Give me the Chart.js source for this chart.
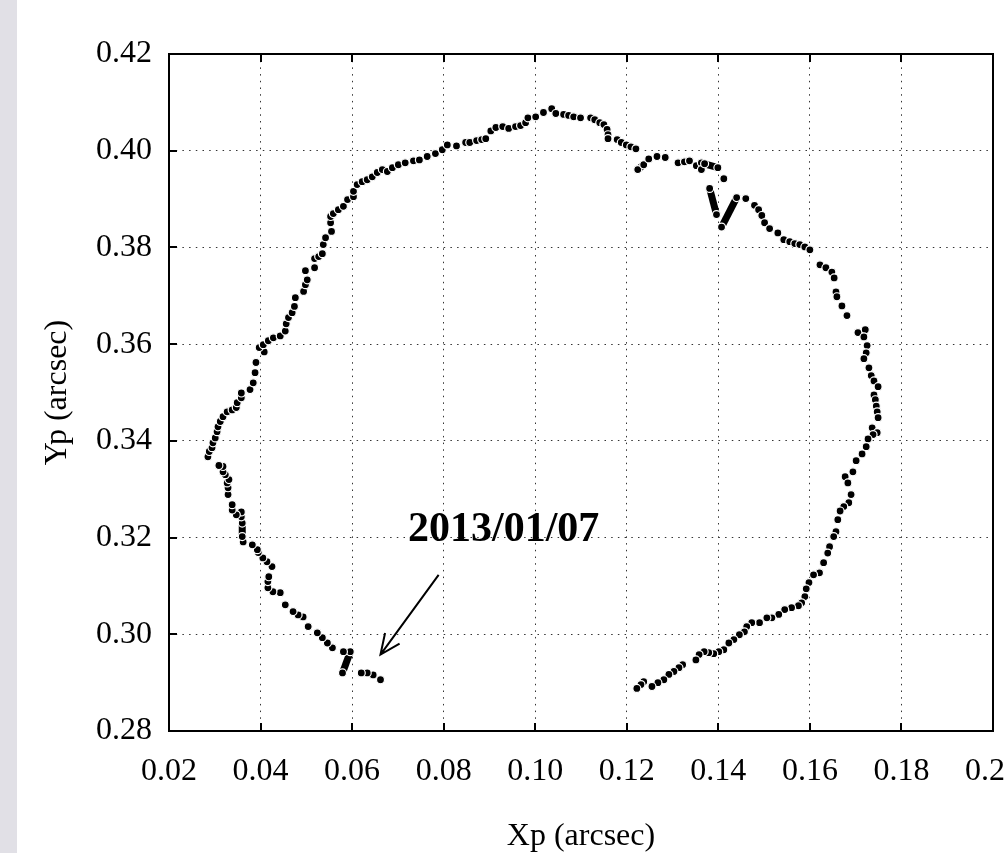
<!DOCTYPE html>
<html>
<head>
<meta charset="utf-8">
<script src="https://cdn.jsdelivr.net/npm/chart.js@4.4.1/dist/chart.umd.min.js"></script>
<style>
  html, body { margin: 0; padding: 0; background: #fff; overflow: hidden; }
  #wrap { width: 1005px; height: 853px; }
</style>
</head>
<body>
<div id="wrap"><canvas id="chart" width="1005" height="853"></canvas></div>
<script>
// polar motion track (arcsec) in order along the curve
const xp = [
  0.0662, 0.0646, 0.0633, 0.0620, 0.0579, 0.0596, 0.0581, 0.0557, 0.0546,
  0.0535, 0.0524, 0.0504, 0.0493, 0.0482, 0.0471, 0.0454, 0.0443, 0.0427, 0.0416,
  0.0416, 0.0418, 0.0425, 0.0414, 0.0405, 0.0395, 0.0393, 0.0382, 0.0362, 0.0360,
  0.0360, 0.0358, 0.0358, 0.0347, 0.0338, 0.0338, 0.0329, 0.0329, 0.0327,
  0.0331, 0.0323, 0.0318, 0.0318, 0.0309, 0.0285, 0.0288, 0.0294, 0.0296, 0.0301,
  0.0305, 0.0307, 0.0312, 0.0318, 0.0327, 0.0338, 0.0347, 0.0349, 0.0358, 0.0358,
  0.0377, 0.0384, 0.0388, 0.0390, 0.0408, 0.0397, 0.0406, 0.0417, 0.0428, 0.0443,
  0.0454, 0.0456, 0.0461, 0.0469, 0.0474, 0.0476, 0.0494, 0.0498, 0.0502, 0.0498,
  0.0518, 0.0518, 0.0527, 0.0535, 0.0537, 0.0542, 0.0555, 0.0553, 0.0553, 0.0559,
  0.0570, 0.0581, 0.0590, 0.0603, 0.0603, 0.0611, 0.0622, 0.0633, 0.0644, 0.0655,
  0.0666, 0.0677, 0.0688, 0.0701, 0.0716, 0.0734, 0.0747, 0.0764, 0.0782, 0.0797,
  0.0808, 0.0828, 0.0848, 0.0857, 0.0872, 0.0883, 0.0892, 0.0903, 0.0914, 0.0929,
  0.0942, 0.0957, 0.0968, 0.0979, 0.0984, 0.1001, 0.1018, 0.1036, 0.1045, 0.1062,
  0.1073, 0.1084, 0.1099, 0.1121, 0.1130, 0.1141, 0.1150, 0.1157, 0.1159, 0.1159,
  0.1179, 0.1188, 0.1199, 0.1209, 0.1220, 0.1224, 0.1237, 0.1248, 0.1266,
  0.1284, 0.1312, 0.1326, 0.1337, 0.1352, 0.1363, 0.1363, 0.1370, 0.1399,
  0.1412, 0.1381, 0.1396, 0.1407, 0.1440, 0.1460,
  0.1479, 0.1488, 0.1495, 0.1501, 0.1512, 0.1530, 0.1543, 0.1556, 0.1567, 0.1578,
  0.1589, 0.1600, 0.1622, 0.1635, 0.1648, 0.1653, 0.1657, 0.1659, 0.1670, 0.1681,
  0.1705, 0.1721, 0.1718, 0.1725, 0.1723, 0.1718, 0.1729, 0.1734, 0.1740, 0.1749,
  0.1740, 0.1743, 0.1745, 0.1747, 0.1749, 0.1736, 0.1747, 0.1738, 0.1727, 0.1723,
  0.1714, 0.1701, 0.1694, 0.1677, 0.1683, 0.1690, 0.1685, 0.1674, 0.1666, 0.1661,
  0.1657, 0.1652, 0.1643, 0.1639, 0.1630, 0.1621, 0.1608, 0.1598, 0.1592, 0.1589,
  0.1582, 0.1575, 0.1560, 0.1545, 0.1532, 0.1517, 0.1506, 0.1490, 0.1473, 0.1462,
  0.1457, 0.1446, 0.1434, 0.1423, 0.1412, 0.1401, 0.1390, 0.1379, 0.1369, 0.1358,
  0.1351, 0.1322, 0.1314, 0.1303, 0.1292, 0.1281, 0.1268, 0.1255, 0.1237, 0.1231,
  0.1222
];
const yp = [
  0.2906, 0.2916, 0.2920, 0.2920, 0.2920, 0.2964, 0.2964, 0.2972, 0.2982,
  0.2993, 0.3003, 0.3016, 0.3036, 0.3040, 0.3047, 0.3061, 0.3086, 0.3088, 0.3096,
  0.3109, 0.3119, 0.3140, 0.3150, 0.3158, 0.3169, 0.3175, 0.3185, 0.3191, 0.3202,
  0.3230, 0.3243, 0.3253, 0.3247, 0.3257, 0.3268, 0.3289, 0.3303, 0.3313,
  0.3320, 0.3330, 0.3336, 0.3347, 0.3349, 0.3367, 0.3378, 0.3386, 0.3396, 0.3406,
  0.3419, 0.3429, 0.3440, 0.3450, 0.3460, 0.3464, 0.3469, 0.3479, 0.3489, 0.3499,
  0.3506, 0.3520, 0.3541, 0.3562, 0.3584, 0.3593, 0.3599, 0.3607, 0.3613, 0.3617,
  0.3627, 0.3642, 0.3655, 0.3665, 0.3678, 0.3696, 0.3709, 0.3723, 0.3733, 0.3752,
  0.3758, 0.3777, 0.3781, 0.3787, 0.3806, 0.3820, 0.3833, 0.3851, 0.3864, 0.3870,
  0.3878, 0.3885, 0.3899, 0.3905, 0.3916, 0.3930, 0.3936, 0.3940, 0.3946, 0.3955,
  0.3961, 0.3957, 0.3965, 0.3971, 0.3975, 0.3979, 0.3981, 0.3988, 0.3994, 0.4002,
  0.4012, 0.4010, 0.4017, 0.4017, 0.4021, 0.4023, 0.4025, 0.4041, 0.4048, 0.4050,
  0.4046, 0.4050, 0.4052, 0.4058, 0.4068, 0.4070, 0.4079, 0.4087, 0.4077, 0.4075,
  0.4073, 0.4070, 0.4068, 0.4068, 0.4064, 0.4058, 0.4054, 0.4044, 0.4033, 0.4025,
  0.4023, 0.4017, 0.4012, 0.4008, 0.4004, 0.3961, 0.3971, 0.3983, 0.3988,
  0.3986, 0.3975, 0.3977, 0.3979, 0.3969, 0.3975, 0.3961, 0.3973, 0.3965,
  0.3942, 0.3922, 0.3868, 0.3842, 0.3903, 0.3901,
  0.3887, 0.3878, 0.3866, 0.3851, 0.3839, 0.3830, 0.3816, 0.3812, 0.3808, 0.3806,
  0.3801, 0.3795, 0.3764, 0.3758, 0.3749, 0.3737, 0.3708, 0.3698, 0.3679, 0.3659,
  0.3624, 0.3630, 0.3615, 0.3597, 0.3582, 0.3570, 0.3551, 0.3535, 0.3524, 0.3512,
  0.3495, 0.3485, 0.3472, 0.3460, 0.3448, 0.3427, 0.3417, 0.3413, 0.3404, 0.3388,
  0.3373, 0.3359, 0.3336, 0.3326, 0.3313, 0.3289, 0.3272, 0.3264, 0.3255, 0.3237,
  0.3212, 0.3202, 0.3181, 0.3168, 0.3148, 0.3127, 0.3123, 0.3107, 0.3094, 0.3078,
  0.3065, 0.3059, 0.3055, 0.3051, 0.3041, 0.3034, 0.3034, 0.3024, 0.3024, 0.3016,
  0.3005, 0.2999, 0.2989, 0.2982, 0.2968, 0.2964, 0.2960, 0.2962, 0.2964, 0.2958,
  0.2947, 0.2937, 0.2931, 0.2923, 0.2917, 0.2906, 0.2900, 0.2892, 0.2902, 0.2896,
  0.2888
];

// short stretches where the daily dots merge into solid bars (start/end pairs)
const barXp = [[0.0579, 0.0596], [0.0360, 0.0360], [0.1370, 0.1399], [0.1381, 0.1396], [0.1407, 0.1440], [0.1224, 0.1237]];
const barYp = [[0.2920, 0.2964], [0.3202, 0.3230], [0.3973, 0.3965], [0.3922, 0.3868], [0.3842, 0.3903], [0.3961, 0.3971]];

const xTicks = [0.02, 0.04, 0.06, 0.08, 0.10, 0.12, 0.14, 0.16, 0.18, 0.20];
const yTicks = [0.28, 0.30, 0.32, 0.34, 0.36, 0.38, 0.40, 0.42];

// annotation: label centre, arrow tail and arrow tip
const noteText = '2013/01/07';
const noteAt = [0.0931, 0.3216];
const arrowFrom = [0.0789, 0.3123];
const arrowTo = [0.0662, 0.2958];

const serif = '"Liberation Serif", "Times New Roman", serif';

const points = xp.map((v, i) => ({ x: v, y: yp[i] }));

const barSets = barXp.map((pair, i) => ({
  type: 'scatter',
  data: [{ x: pair[0], y: barYp[i][0] }, { x: pair[1], y: barYp[i][1] }],
  showLine: true,
  borderColor: '#000',
  backgroundColor: '#000',
  borderWidth: 7,
  borderCapStyle: 'butt',
  pointRadius: 0,
  fill: false,
  order: 1
}));

const frame = {
  id: 'frame',
  beforeDraw(chart) {
    const ctx = chart.ctx;
    ctx.save();
    ctx.fillStyle = '#fff';
    ctx.fillRect(0, 0, chart.width, chart.height);
    ctx.fillStyle = '#e1e0e6';
    ctx.fillRect(0, 0, 17, chart.height);
    ctx.restore();
  },
  afterDraw(chart) {
    const ctx = chart.ctx;
    const a = chart.chartArea;
    const sx = chart.scales.x, sy = chart.scales.y;
    ctx.save();
    ctx.strokeStyle = '#000';
    ctx.lineWidth = 2;
    ctx.strokeRect(a.left, a.top, a.right - a.left, a.bottom - a.top);
    ctx.beginPath();
    xTicks.forEach(v => {
      const px = Math.round(sx.getPixelForValue(v));
      ctx.moveTo(px, a.bottom); ctx.lineTo(px, a.bottom - 8);
      ctx.moveTo(px, a.top); ctx.lineTo(px, a.top + 8);
    });
    yTicks.forEach(v => {
      const py = Math.round(sy.getPixelForValue(v));
      ctx.moveTo(a.left, py); ctx.lineTo(a.left + 8, py);
    });
    ctx.stroke();

    // annotation
    ctx.fillStyle = '#000';
    ctx.font = 'bold 42px ' + serif;
    ctx.textAlign = 'center';
    ctx.textBaseline = 'middle';
    ctx.fillText(noteText, sx.getPixelForValue(noteAt[0]), sy.getPixelForValue(noteAt[1]));

    const x0 = sx.getPixelForValue(arrowFrom[0]), y0 = sy.getPixelForValue(arrowFrom[1]);
    const x1 = sx.getPixelForValue(arrowTo[0]), y1 = sy.getPixelForValue(arrowTo[1]);
    const ang = Math.atan2(y0 - y1, x0 - x1);
    ctx.lineWidth = 2;
    ctx.beginPath();
    ctx.moveTo(x0, y0); ctx.lineTo(x1, y1);
    ctx.moveTo(x1 + 22 * Math.cos(ang - 0.42), y1 + 22 * Math.sin(ang - 0.42));
    ctx.lineTo(x1, y1);
    ctx.lineTo(x1 + 22 * Math.cos(ang + 0.42), y1 + 22 * Math.sin(ang + 0.42));
    ctx.stroke();
    ctx.restore();
  }
};

new Chart(document.getElementById('chart'), {
  type: 'scatter',
  data: {
    datasets: [{
      data: points,
      pointRadius: 4,
      pointBackgroundColor: '#000',
      pointBorderColor: '#fff',
      pointBorderWidth: 1.2,
      showLine: false,
      order: 0
    }].concat(barSets)
  },
  options: {
    responsive: false,
    animation: false,
    layout: { padding: { left: 0, top: 54, right: 12, bottom: 0 } },
    plugins: { legend: { display: false }, tooltip: { enabled: false } },
    scales: {
      x: {
        type: 'linear',
        min: 0.02,
        max: 0.20,
        afterBuildTicks: s => { s.ticks = xTicks.map(v => ({ value: v })); },
        afterFit: s => { s.height = 122; s.paddingLeft = 0; s.paddingRight = 0; },
        grid: { color: '#333', lineWidth: 1, drawTicks: false },
        border: { display: false, dash: [1.5, 5.2] },
        ticks: {
          padding: 21,
          color: '#000',
          font: { family: serif, size: 32 },
          maxRotation: 0,
          autoSkip: false,
          callback: v => v.toFixed(2)
        },
        title: {
          display: true,
          text: 'Xp (arcsec)',
          color: '#000',
          font: { family: serif, size: 32, lineHeight: 1 },
          padding: { top: 0, bottom: 0 }
        }
      },
      y: {
        type: 'linear',
        min: 0.28,
        max: 0.42,
        afterBuildTicks: s => { s.ticks = yTicks.map(v => ({ value: v })); },
        afterFit: s => { s.width = 169; s.paddingTop = 0; s.paddingBottom = 0; },
        grid: { color: '#333', lineWidth: 1, drawTicks: false },
        border: { display: false, dash: [1.5, 5.2] },
        ticks: {
          padding: 17,
          color: '#000',
          font: { family: serif, size: 32 },
          autoSkip: false,
          callback: v => v.toFixed(2)
        },
        title: {
          display: true,
          text: 'Yp (arcsec)',
          color: '#000',
          font: { family: serif, size: 32, lineHeight: 1 },
          padding: { top: 42, bottom: 0 }
        }
      }
    }
  },
  plugins: [frame]
});
</script>
</body>
</html>
